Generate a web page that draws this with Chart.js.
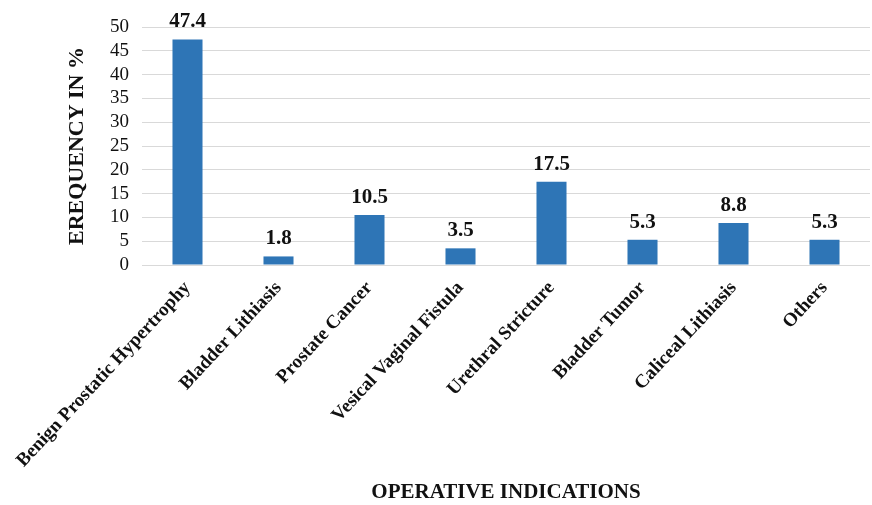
<!DOCTYPE html>
<html>
<head>
<meta charset="utf-8">
<script src="https://cdn.jsdelivr.net/npm/chart.js@4.4.1/dist/chart.umd.min.js"></script>
<style>
  html, body { margin: 0; padding: 0; background: #fff; }
  #wrap { width: 872px; height: 505px; position: relative; }
</style>
</head>
<body>
<div id="wrap"><canvas id="chart"></canvas></div>
<script>
// data
const categories = [
  'Benign Prostatic Hypertrophy',
  'Bladder Lithiasis',
  'Prostate Cancer',
  'Vesical Vaginal Fistula',
  'Urethral Stricture',
  'Bladder Tumor',
  'Caliceal Lithiasis',
  'Others'
];
const frequency = [47.4, 1.8, 10.5, 3.5, 17.5, 5.3, 8.8, 5.3];
const yTicks = [0, 5, 10, 15, 20, 25, 30, 35, 40, 45, 50];

const SERIF = '"Liberation Serif", "Times New Roman", serif';

// value labels on top of each bar
const barValues = {
  id: 'barValues',
  afterDatasetsDraw(chart) {
    const ctx = chart.ctx;
    const meta = chart.getDatasetMeta(0);
    ctx.save();
    ctx.font = 'bold 21px ' + SERIF;
    ctx.fillStyle = '#111';
    ctx.textAlign = 'center';
    ctx.textBaseline = 'alphabetic';
    meta.data.forEach((bar, i) => {
      ctx.fillText(frequency[i].toFixed(1), bar.x, bar.y - 12);
    });
    ctx.restore();
  }
};

new Chart(document.getElementById('chart'), {
  type: 'bar',
  data: {
    labels: categories,
    datasets: [{
      label: 'Frequency',
      data: frequency,
      backgroundColor: '#2e75b6',
      borderWidth: 0,
      categoryPercentage: 1,
      barPercentage: 0.33
    }]
  },
  options: {
    responsive: true,
    maintainAspectRatio: false,
    animation: false,
    layout: { padding: { top: 27, right: 2, left: 64, bottom: 0 } },
    plugins: {
      legend: { display: false },
      tooltip: { enabled: false }
    },
    scales: {
      x: {
        grid: { display: false },
        border: { display: false },
        ticks: {
          color: '#111',
          font: { family: SERIF, size: 19, weight: 'bold' },
          minRotation: 47,
          maxRotation: 47,
          autoSkip: false,
          padding: 4
        },
        title: {
          display: true,
          text: 'OPERATIVE INDICATIONS',
          color: '#111',
          font: { family: SERIF, size: 21, weight: 'bold' },
          padding: { top: 0, bottom: 0 }
        },
        afterFit(scale) { scale.height = 505 - 265; }
      },
      y: {
        min: 0,
        max: 50,
        afterBuildTicks(scale) { scale.ticks = yTicks.map(v => ({ value: v })); },
        grid: { color: '#d9d9d9', lineWidth: 1, drawTicks: false },
        border: { display: false },
        ticks: {
          color: '#111',
          font: { family: SERIF, size: 19 },
          autoSkip: false,
          padding: 13
        },
        title: {
          display: true,
          text: 'EREQUENCY IN %',
          color: '#111',
          font: { family: SERIF, size: 22, weight: 'bold' },
          padding: { top: 0, bottom: 0 }
        },
        afterFit(scale) { scale.width = 142 - 64; }
      }
    }
  },
  plugins: [barValues]
});
</script>
</body>
</html>
